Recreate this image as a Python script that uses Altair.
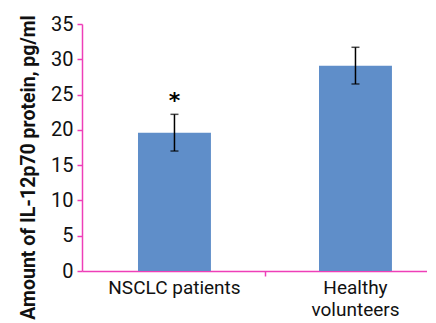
import altair as alt
import pandas as pd

groups = ["NSCLC patients", "Healthy\nvolunteers"]
means = [19.6, 29.1]
errors = [2.6, 2.6]
stars = ["*", ""]

df = pd.DataFrame({"group": groups, "mean": means, "err": errors, "star": stars})
df["lo"] = df["mean"] - df["err"]
df["hi"] = df["mean"] + df["err"]

PINK = "#ee3fb8"
FONT = "Roboto"
YTITLE = "Amount of IL-12p70 protein, pg/ml"

xscale = alt.Scale(paddingInner=0.597, paddingOuter=0.2515, align=0.615)
yscale = alt.Scale(domain=[0, 35], nice=False)

yaxis = alt.Axis(title=YTITLE, values=list(range(0, 36, 5)), labelOverlap=False,
                 grid=False, domainColor=PINK, domainWidth=1.5, tickColor=PINK,
                 tickSize=5, tickWidth=1.5, labelFont=FONT, labelFontSize=20,
                 labelColor="#111", labelPadding=4, titleFont=FONT,
                 titleFontSize=19.5, titleFontWeight="bold", titleColor="#111",
                 titlePadding=12, titleY=143)

base = alt.Chart(df)

bars = base.mark_bar(color="#5f8ec9").encode(
    x=alt.X("group:N", sort=groups, scale=xscale,
            axis=alt.Axis(title=None, labelAngle=0, ticks=False, domainColor=PINK,
                          domainWidth=1.5, labelFont=FONT, labelFontSize=19,
                          labelColor="#111", labelPadding=7, labelLineHeight=22,
                          labelExpr="split(datum.label, '\\n')")),
    y=alt.Y("mean:Q", scale=yscale, axis=yaxis, title=YTITLE),
)

err = base.mark_errorbar(ticks=alt.MarkConfig(size=8, color="black", strokeWidth=1.5),
                         color="black", thickness=1.5).encode(
    x=alt.X("group:N", sort=groups, scale=xscale),
    y=alt.Y("lo:Q", scale=yscale, axis=yaxis, title=YTITLE),
    y2="hi:Q",
)

star = base.mark_text(fontSize=22, fontWeight="bold", color="black", dy=8, font="DejaVu Sans").encode(
    x=alt.X("group:N", sort=groups, scale=xscale),
    y=alt.Y("sy:Q", scale=yscale, axis=yaxis, title=YTITLE),
    text="star:N",
).transform_calculate(sy="datum.hi + 3.0")

main = alt.layer(bars, err, star)

tick_df = pd.DataFrame({"b": [1]})
tick_layer = alt.Chart(tick_df).mark_point(opacity=0).encode(
    x=alt.X("b:Q", scale=alt.Scale(domain=[0, 345 / 183], nice=False, zero=False),
            axis=alt.Axis(values=[1], labels=False, domain=False, ticks=True, tickColor=PINK,
                          tickSize=5, tickWidth=1.5, title=None, orient="bottom", grid=False)),
)

chart = alt.layer(main, tick_layer).resolve_scale(x="independent").properties(
    width=345, height=247, padding={"left": 10, "top": 6, "right": 0, "bottom": 0}
).configure_view(stroke=None)

chart.save("out.html", embed_options={"renderer": "svg", "actions": False})
